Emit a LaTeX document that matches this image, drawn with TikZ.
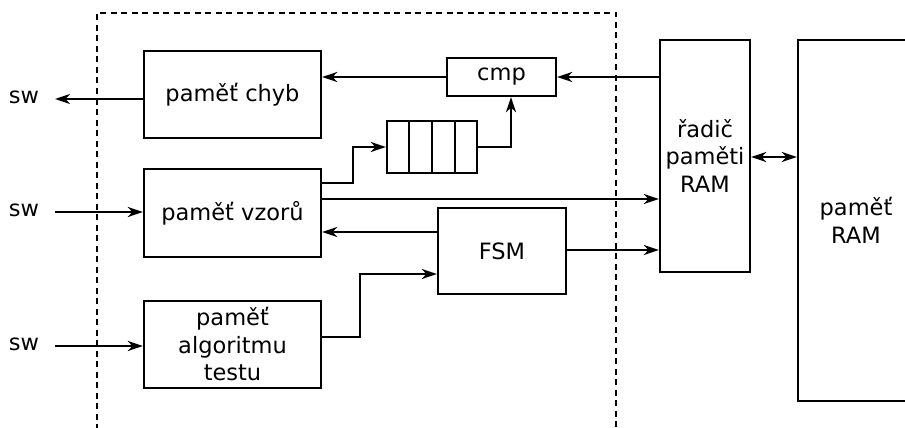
\documentclass[tikz,border=0pt]{standalone}
\usepackage{fontspec}
\setmainfont{DejaVu Sans}
\usetikzlibrary{arrows.meta,calc}
\begin{document}
\begin{tikzpicture}[x=1pt,y=-1pt,
  every node/.style={font=\fontsize{22.5}{27.5}\selectfont},
  blk/.style={draw,line width=2.3pt,inner sep=0pt,align=center},
  tip/.tip={Stealth[length=15pt,width=10pt,inset=4.5pt]},
  arr/.style={line width=2.3pt,-tip},
  darr/.style={line width=2.3pt,tip-tip},
  ln/.style={line width=2.3pt}]
\useasboundingbox (0,0) rectangle (905,428);
\clip (0,0) rectangle (905,428);
% dashed boundary
\draw[line width=2pt,dash pattern=on 6pt off 4.5pt] (97,430) -- (97,13) -- (616,13) -- (616,430);
% blocks
\node[blk,minimum width=177pt,minimum height=87pt] (chyb) at (232.5,94.5) {paměť chyb};
\node[blk,minimum width=177pt,minimum height=88pt] (vzoru) at (232.5,213) {paměť vzorů};
\node[blk,minimum width=177pt,minimum height=87pt] (alg) at (232.5,344.5) {paměť\\algoritmu\\testu};
\node[blk,minimum width=109pt,minimum height=38pt] (cmp) at (501.5,77) {cmp};
\node[blk,minimum width=90pt,minimum height=52pt] (queue) at (432,147) {};
\foreach \xx in {409,432,455} \draw[ln] (\xx,121) -- (\xx,173);
\node[blk,minimum width=128pt,minimum height=86pt] (fsm) at (502,251) {FSM};
\node[blk,minimum width=90pt,minimum height=232pt] (ctrl) at (705,156) {řadič\\paměti\\RAM};
\node[blk,minimum width=116pt,minimum height=361pt] (ram) at (856,220.5) {paměť\\RAM};
% sw labels
\node (sw1) at (24,97) {sw};
\node (sw2) at (24,210) {sw};
\node (sw3) at (24,344) {sw};
\coordinate (s1) at (55,99);
\coordinate (s2) at (55,212);
\coordinate (s3) at (55,346);
% connectors
\draw[arr] (chyb.west |- s1) -- (s1);
\draw[arr] (s2) -- (vzoru.west |- s2);
\draw[arr] (s3) -- (alg.west |- s3);
\draw[arr] (ctrl.west |- cmp.east) -- (cmp.east);
\draw[arr] (cmp.west) -- (cmp.west -| chyb.east);
\draw[arr] (queue.east) -| (cmp.south -| {(511,0)});
\draw[arr] (vzoru.east |- {(0,183)}) -- (353,183) |- (queue.west);
\draw[arr] (vzoru.east |- {(0,199)}) -- (ctrl.west |- {(0,199)});
\draw[arr] (fsm.west |- {(0,232)}) -- (vzoru.east |- {(0,232)});
\draw[arr] (fsm.east |- {(0,250)}) -- (ctrl.west |- {(0,250)});
\draw[arr] (alg.east |- {(0,337)}) -- (360,337) |- (fsm.west |- {(0,274)});
\draw[darr] (ctrl.east |- {(0,157)}) -- (ram.west |- {(0,157)});
\end{tikzpicture}
\end{document}
